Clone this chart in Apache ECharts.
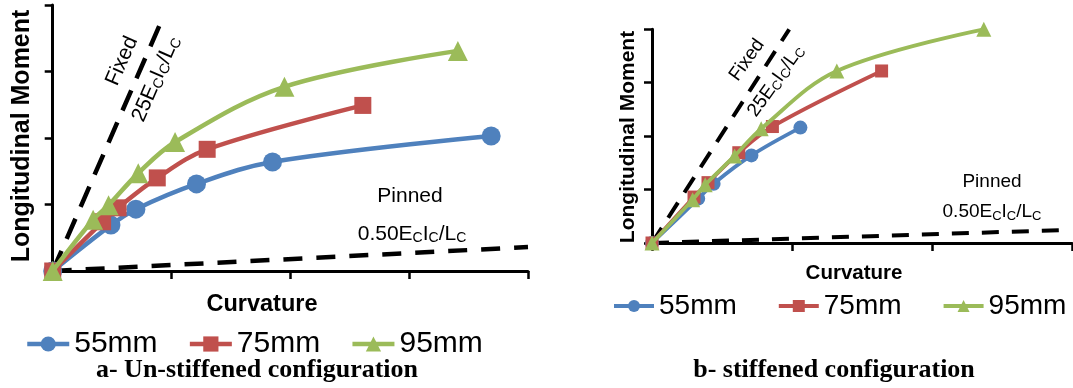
<!DOCTYPE html>
<html>
<head>
<meta charset="utf-8">
<script src="https://cdn.jsdelivr.net/npm/echarts@6/dist/echarts.min.js"></script>
<style>
html,body{margin:0;padding:0;background:#fff;}
#chart{width:1073px;height:388px;}
</style>
</head>
<body>
<div id="chart"></div>
<script>
// ---- Data (curvature, moment) in arbitrary axis units ----
const seriesNames = ['55mm', '75mm', '95mm'];

// a- Un-stiffened configuration
const unstiff55 = [[0,0],[0.49,0.69],[0.70,0.93],[1.21,1.31],[1.85,1.64],[3.69,2.03]];
const unstiff75 = [[0,0],[0.42,0.74],[0.55,0.95],[0.88,1.40],[1.30,1.83],[2.61,2.49]];
const unstiff95 = [[0,0],[0.34,0.77],[0.47,0.99],[0.72,1.47],[1.03,1.94],[1.95,2.77],[3.41,3.31]];
const unstiffFixed = [[0,0],[0.92,3.78]];
const unstiffPinned = [[0,0],[4.0,0.36]];

// b- stiffened configuration
const stiff55 = [[0,0],[0.33,0.83],[0.44,1.11],[0.71,1.64],[1.06,2.16]];
const stiff75 = [[0,0],[0.30,0.86],[0.40,1.13],[0.62,1.69],[0.86,2.18],[1.64,3.22]];
const stiff95 = [[0,0],[0.29,0.81],[0.38,1.09],[0.59,1.63],[0.78,2.14],[1.32,3.22],[2.37,4.0]];
const stiffFixed = [[0,0],[0.98,4.0]];
const stiffPinned = [[0,0],[2.92,0.24]];

const axisXMaxA = 4, axisYMaxA = 4, axisXMaxB = 3, axisYMaxB = 4;

const colors = ['#4F81BD', '#C0504D', '#9BBB59'];
const symbols = ['circle', 'rect', 'triangle'];

const chart = echarts.init(document.getElementById('chart'), null, {renderer: 'canvas'});

function axis(max, idx) {
  return {
    type: 'value', gridIndex: idx, min: 0, max: max, interval: 1,
    axisLine: {show: true, lineStyle: {color: '#000', width: 3}},
    axisTick: {show: true, inside: false, length: 8, lineStyle: {color: '#000', width: 2.5}},
    axisLabel: {show: false},
    splitLine: {show: false}
  };
}

function dataSeries(name, data, idx, k, symSize, lw) {
  return {
    name: name, type: 'line', xAxisIndex: idx, yAxisIndex: idx, data: data,
    smooth: 0.35, symbol: symbols[k], symbolSize: symSize, showSymbol: true,
    lineStyle: {color: colors[k], width: lw},
    itemStyle: {color: colors[k]},
    z: 3 + k, animation: false
  };
}
function dashSeries(data, idx, dash, lw) {
  return {
    type: 'line', xAxisIndex: idx, yAxisIndex: idx, data: data, symbol: 'none',
    lineStyle: {color: '#000', width: lw, type: dash, cap: 'butt'},
    z: 2, animation: false, silent: true
  };
}

function txt(x, y, text, size, opts) {
  opts = opts || {};
  return {
    type: 'text', x: x, y: y, rotation: opts.rot || 0, silent: true,
    style: {
      text: text, fontSize: size, fontFamily: opts.family || 'Liberation Sans',
      fontWeight: opts.bold ? 'bold' : 'normal', fill: '#000',
      align: 'center', verticalAlign: 'middle',
      rich: opts.rich
    }
  };
}
function subRichSized(sz, pad) {
  return {s: {fontSize: sz, fontFamily: 'Liberation Sans', fill: '#000', padding: [pad, 0, 0, 0]}};
}

const option = {
  backgroundColor: '#fff',
  animation: false,
  grid: [
    {left: 52.7, right: 545, top: 5, bottom: 117},
    {left: 652, right: 1, top: 29.3, bottom: 145}
  ],
  xAxis: [axis(axisXMaxA, 0), axis(axisXMaxB, 1)],
  yAxis: [axis(axisYMaxA, 0), axis(axisYMaxB, 1)],
  legend: [
    {data: seriesNames, left: 25, top: 329, width: 520, padding: 0, orient: 'horizontal', itemWidth: 42, itemHeight: 19, itemGap: 30,
     lineStyle: {width: 4.5},
     textStyle: {fontSize: 30, fontFamily: 'Liberation Sans', color: '#000'}},
    {data: seriesNames, left: 612, top: 292, width: 461, padding: 0, orient: 'horizontal', itemWidth: 40, itemHeight: 15, itemGap: 40,
     lineStyle: {width: 4},
     textStyle: {fontSize: 28, fontFamily: 'Liberation Sans', color: '#000'}}
  ],
  series: [
    dashSeries(unstiffFixed, 0, [22, 13], 4.5),
    dashSeries(unstiffPinned, 0, [19, 14], 4.5),
    dataSeries(seriesNames[0], unstiff55, 0, 0, 19, 4.5),
    dataSeries(seriesNames[1], unstiff75, 0, 1, 17, 4.5),
    dataSeries(seriesNames[2], unstiff95, 0, 2, 20, 4.5),
    dashSeries(stiffFixed, 1, [18, 12], 4),
    dashSeries(stiffPinned, 1, [17, 13], 4),
    dataSeries(seriesNames[0], stiff55, 1, 0, 14, 3.8),
    dataSeries(seriesNames[1], stiff75, 1, 1, 13, 3.8),
    dataSeries(seriesNames[2], stiff95, 1, 2, 15, 3.8)
  ],
  graphic: [
    // left panel annotations
    txt(122, 61, 'Fixed', 21, {rot: 1.16}),
    txt(156, 79, '25E{s|C}I{s|C}/L{s|C}', 21, {rot: 1.16, rich: subRichSized(14, 9)}),
    txt(410, 196, 'Pinned', 21),
    txt(412, 234, '0.50E{s|C}I{s|C}/L{s|C}', 21, {rich: subRichSized(14, 9)}),
    txt(22, 136, 'Longitudinal Moment', 25, {bold: true, rot: Math.PI / 2}),
    txt(262, 305, 'Curvature', 23.5, {bold: true}),
    txt(257, 370, 'a- Un-stiffened configuration', 26, {bold: true, family: 'Liberation Serif'}),
    // right panel annotations
    txt(747, 60, 'Fixed', 19, {rot: 0.95}),
    txt(776, 81, '25E{s|C}I{s|C}/L{s|C}', 19, {rot: 0.95, rich: subRichSized(13, 8)}),
    txt(992, 182, 'Pinned', 19),
    txt(992, 212, '0.50E{s|C}I{s|C}/L{s|C}', 19, {rich: subRichSized(13, 8)}),
    txt(628, 137, 'Longitudinal Moment', 21, {bold: true, rot: Math.PI / 2}),
    txt(854, 273, 'Curvature', 20.5, {bold: true}),
    txt(834, 370, 'b- stiffened configuration', 26, {bold: true, family: 'Liberation Serif'})
  ]
};
chart.setOption(option);
</script>
</body>
</html>
